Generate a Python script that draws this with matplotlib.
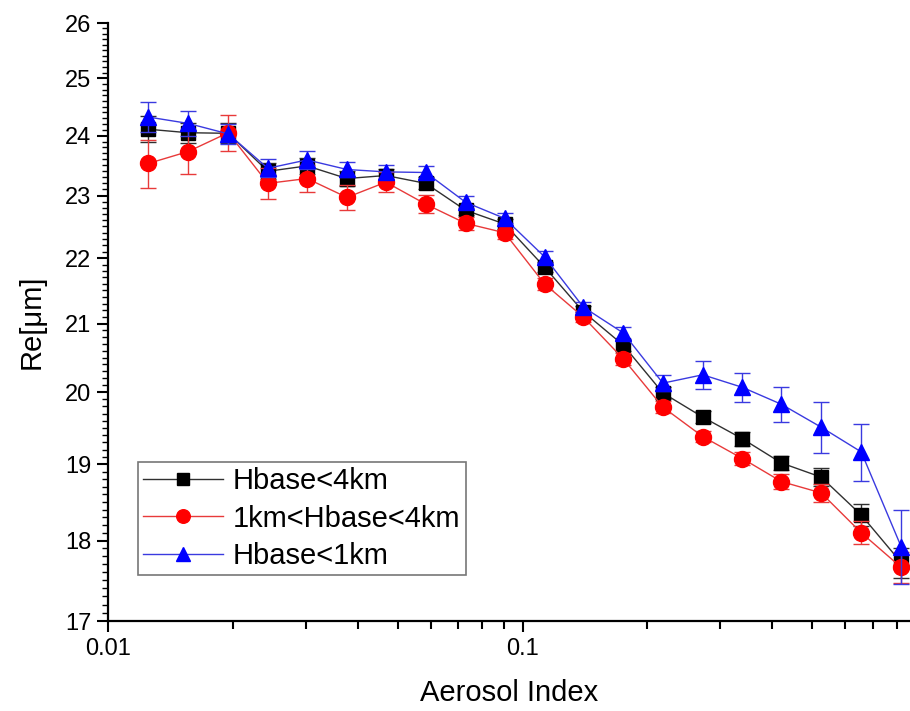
import matplotlib
matplotlib.use("Agg")
import matplotlib.pyplot as plt
from matplotlib.lines import Line2D
from matplotlib.ticker import FixedLocator, NullFormatter, FixedFormatter

plt.rcParams['font.family'] = ['Liberation Sans', 'DejaVu Sans']

aerosol_index = [0.0125, 0.0156, 0.0195, 0.0243, 0.0302, 0.0377, 0.0468, 0.0584,
                 0.0729, 0.0905, 0.113, 0.140, 0.175, 0.218, 0.272, 0.339,
                 0.421, 0.525, 0.656, 0.819]

re_all = [24.11, 24.05, 24.04, 23.40, 23.49, 23.28, 23.33, 23.20,
          22.76, 22.54, 21.86, 21.18, 20.68, 19.99, 19.65, 19.35,
          19.02, 18.83, 18.33, 17.72]
err_all = [0.22, 0.17, 0.17, 0.13, 0.13, 0.12, 0.10, 0.10,
           0.08, 0.08, 0.08, 0.08, 0.08, 0.08, 0.08, 0.10,
           0.10, 0.12, 0.14, 0.19]

re_mid = [23.53, 23.73, 24.05, 23.20, 23.28, 22.97, 23.22, 22.86,
          22.55, 22.40, 21.60, 21.10, 20.48, 19.79, 19.38, 19.08,
          18.77, 18.62, 18.10, 17.66]
err_mid = [0.40, 0.37, 0.31, 0.25, 0.23, 0.20, 0.17, 0.15,
           0.11, 0.10, 0.09, 0.08, 0.09, 0.08, 0.08, 0.09,
           0.10, 0.12, 0.15, 0.19]

re_low = [24.32, 24.21, 24.03, 23.45, 23.59, 23.43, 23.39, 23.38,
          22.89, 22.63, 22.02, 21.25, 20.86, 20.13, 20.25, 20.07,
          19.83, 19.51, 19.17, 17.92]
err_low = [0.26, 0.22, 0.17, 0.15, 0.15, 0.13, 0.12, 0.11,
           0.10, 0.08, 0.09, 0.08, 0.09, 0.11, 0.20, 0.21,
           0.25, 0.35, 0.39, 0.47]

labels = ['Hbase<4km', '1km<Hbase<4km', 'Hbase<1km']
mcolors = ['black', '#ff0000', '#0000ff']
lcolors = ['#303030', '#e83a3a', '#3a3ae0']
markers = ['s', 'o', '^']
msizes = [10, 11.5, 12]

fig = plt.figure(figsize=(9.10, 7.11), dpi=100)
ax = fig.add_axes([108/910, 1 - 621/711, 1 - 108/910, (621 - 23)/711])

series = [(re_all, err_all), (re_mid, err_mid), (re_low, err_low)]
for i, (vals, errs) in enumerate(series):
    ax.errorbar(aerosol_index, vals, yerr=errs, color=lcolors[i], marker=markers[i],
                markersize=msizes[i], markerfacecolor=mcolors[i],
                markeredgecolor=mcolors[i], linewidth=1.0, elinewidth=1.0,
                capsize=6, ecolor=lcolors[i], zorder=3 + i)

ax.set_xscale('log')
ax.set_yscale('log')
ax.set_xlim(0.01, 0.86)
ax.set_ylim(17, 26)

ax.xaxis.set_major_locator(FixedLocator([0.01, 0.1]))
ax.xaxis.set_major_formatter(FixedFormatter(['0.01', '0.1']))
xminor = [k * 0.01 for k in range(2, 10)] + [k * 0.1 for k in range(2, 9)]
ax.xaxis.set_minor_locator(FixedLocator(xminor))
ax.xaxis.set_minor_formatter(NullFormatter())

yticks = list(range(17, 27))
ax.yaxis.set_major_locator(FixedLocator(yticks))
ax.yaxis.set_major_formatter(FixedFormatter([str(v) for v in yticks]))
yminor = [17 + k * 0.1 for k in range(1, 90) if k % 10 != 0]
ax.yaxis.set_minor_locator(FixedLocator(yminor))
ax.yaxis.set_minor_formatter(NullFormatter())

for s in ['top', 'right']:
    ax.spines[s].set_visible(False)
for s in ['left', 'bottom']:
    ax.spines[s].set_linewidth(1.6)

ax.tick_params(axis='both', which='major', direction='out', length=8, width=1.5,
               labelsize=17, pad=4)
ax.tick_params(axis='y', which='minor', direction='out', length=4, width=1.0)
ax.tick_params(axis='x', which='minor', direction='out', length=6, width=1.5)

ax.set_xlabel('Aerosol Index', fontsize=21, labelpad=14)
ax.set_ylabel('Re[\u03bcm]', fontsize=21, labelpad=14)

handles = [Line2D([], [], color=lcolors[i], marker=markers[i],
                  markerfacecolor=mcolors[i], markeredgecolor=mcolors[i],
                  markersize=msizes[i] * 0.85, linewidth=1.0) for i in range(3)]
leg = ax.legend(handles, labels, loc='upper left', bbox_to_anchor=(138/910, 1 - 462/711),
                bbox_transform=fig.transFigure, fontsize=21, frameon=True,
                fancybox=False, edgecolor='#555555', handlelength=2.74,
                labelspacing=0.32, borderpad=0.18, handletextpad=0.34,
                borderaxespad=0)
leg.get_frame().set_linewidth(1.2)

fig.savefig('out.png', dpi=100)
